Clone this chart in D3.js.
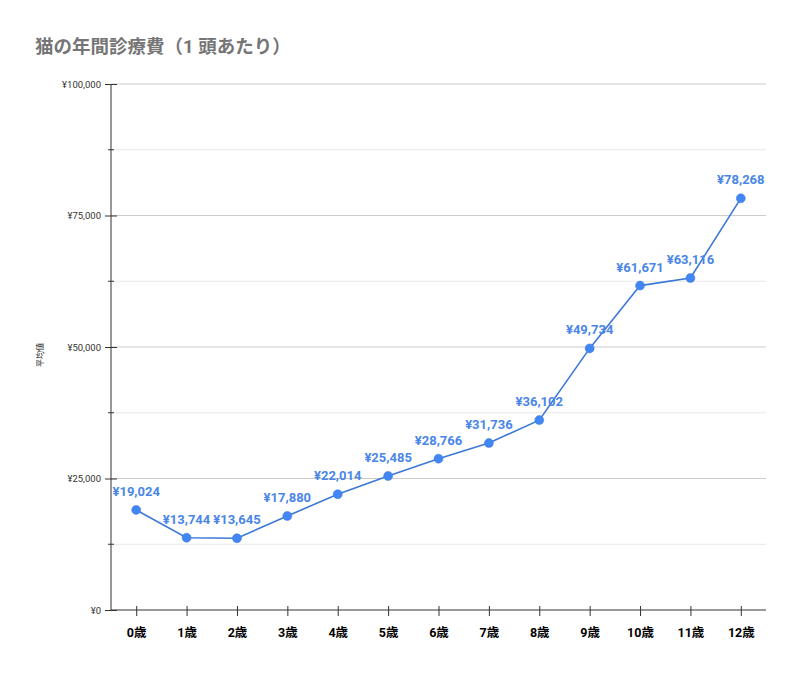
<!doctype html>
<html>
<head>
  <meta charset="utf-8">
  <script src="https://d3js.org/d3.v7.min.js"></script>
  <style>
    body { margin: 0; background: #fff; }
    text { font-family: Roboto, "Noto Sans CJK JP", sans-serif; }
  </style>
</head>
<body>
<svg width="800" height="674"></svg>
<script>
  var ages = ["0歳", "1歳", "2歳", "3歳", "4歳", "5歳", "6歳", "7歳", "8歳", "9歳", "10歳", "11歳", "12歳"];
  var costs = [19024, 13744, 13645, 17880, 22014, 25485, 28766, 31736, 36102, 49734, 61671, 63116, 78268];
  var majorTicks = [0, 25000, 50000, 75000, 100000];
  var minorTicks = [12500, 37500, 62500, 87500];

  var svg = d3.select("svg");
  var plotLeft = 111, plotRight = 766, plotTop = 84, plotBottom = 610;

  var x = d3.scalePoint().domain(ages).range([plotLeft, plotRight]).padding(0.5);
  var y = d3.scaleLinear().domain([0, 100000]).range([plotBottom, plotTop]);

  var data = ages.map(function(a, i) { return { age: a, cost: costs[i] } });

  // title
  svg.append("text")
    .attr("x", 35).attr("y", 53)
    .attr("font-size", "18.5px").attr("font-weight", "bold")
    .attr("fill", "#757575")
    .text("猫の年間診療費（1 頭あたり）");

  // grid
  svg.selectAll(".minor").data(minorTicks).enter().append("line")
    .attr("x1", plotLeft).attr("x2", plotRight)
    .attr("y1", function(d) { return y(d) }).attr("y2", function(d) { return y(d) })
    .attr("stroke", "#e8e8e8");
  svg.selectAll(".major").data(majorTicks.slice(1)).enter().append("line")
    .attr("x1", plotLeft).attr("x2", plotRight)
    .attr("y1", function(d) { return y(d) }).attr("y2", function(d) { return y(d) })
    .attr("stroke", "#cccccc");

  // y axis
  var yAxis = svg.append("g").attr("transform", "translate(" + plotLeft + ",0)")
    .call(d3.axisLeft(y).tickValues(majorTicks).tickSize(6)
      .tickFormat(function(d) { return "¥" + d3.format(",")(d) }));
  yAxis.select(".domain").remove();
  yAxis.selectAll("line").attr("x2", -6).attr("x1", 6).attr("stroke", "#333");
  yAxis.selectAll("text").attr("x", -10).attr("font-size", "9.5px").attr("fill", "#333");

  svg.selectAll(".ymin").data(minorTicks).enter().append("line")
    .attr("x1", plotLeft - 3).attr("x2", plotLeft + 3)
    .attr("y1", function(d) { return y(d) }).attr("y2", function(d) { return y(d) })
    .attr("stroke", "#333");

  svg.append("line")
    .attr("x1", plotLeft).attr("x2", plotLeft).attr("y1", plotTop).attr("y2", plotBottom)
    .attr("stroke", "#333");

  // x axis
  var xAxis = svg.append("g").attr("transform", "translate(0," + plotBottom + ")")
    .call(d3.axisBottom(x).tickSize(6));
  xAxis.select(".domain").attr("d", "M" + plotLeft + ",0H" + plotRight).attr("stroke", "#333");
  xAxis.selectAll("line").attr("y1", -4).attr("y2", 6).attr("stroke", "#333");
  xAxis.selectAll("text").attr("y", 18).attr("font-size", "12.5px")
    .attr("font-weight", "bold").attr("fill", "#000");

  // y label
  svg.append("text")
    .attr("transform", "translate(43,355) rotate(-90)")
    .attr("text-anchor", "middle")
    .attr("font-size", "8px").attr("fill", "#222")
    .text("平均値");

  // line
  var line = d3.line().x(function(d) { return x(d.age) }).y(function(d) { return y(d.cost) });
  svg.append("path").datum(data)
    .attr("d", line).attr("fill", "none")
    .attr("stroke", "#3c78d8").attr("stroke-width", 1.6);

  svg.selectAll(".pt").data(data).enter().append("circle")
    .attr("cx", function(d) { return x(d.age) })
    .attr("cy", function(d) { return y(d.cost) })
    .attr("r", 4.5)
    .attr("fill", "#4285f4").attr("stroke", "#3c78d8").attr("stroke-width", 0.5);

  svg.selectAll(".lbl").data(data).enter().append("text")
    .attr("x", function(d) { return x(d.age) })
    .attr("y", function(d) { return y(d.cost) - 14 })
    .attr("text-anchor", "middle")
    .attr("font-size", "13px").attr("font-weight", "bold")
    .attr("fill", "#4a86e8")
    .text(function(d) { return "¥" + d3.format(",")(d.cost) });
</script>
</body>
</html>
